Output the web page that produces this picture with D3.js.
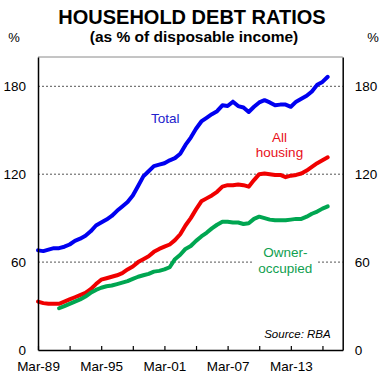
<!DOCTYPE html>
<html>
<head>
<meta charset="utf-8">
<script src="https://cdn.jsdelivr.net/npm/d3@7"></script>
<style>
  body { margin: 0; background: #fff; }
  svg { display: block; font-family: "Liberation Sans", Arial, sans-serif; }
</style>
</head>
<body>
<svg id="chart"></svg>
<script>
// Half-yearly observations (Mar / Sep)
const dates = [
  "Mar-89","Sep-89","Mar-90","Sep-90","Mar-91","Sep-91","Mar-92","Sep-92",
  "Mar-93","Sep-93","Mar-94","Sep-94","Mar-95","Sep-95","Mar-96","Sep-96",
  "Mar-97","Sep-97","Mar-98","Sep-98","Mar-99","Sep-99","Mar-00","Sep-00",
  "Mar-01","Sep-01","Mar-02","Sep-02","Mar-03","Sep-03","Mar-04","Sep-04",
  "Mar-05","Sep-05","Mar-06","Sep-06","Mar-07","Sep-07","Mar-08","Sep-08",
  "Mar-09","Sep-09","Mar-10","Sep-10","Mar-11","Sep-11","Mar-12","Sep-12",
  "Mar-13","Sep-13","Mar-14","Sep-14","Mar-15","Sep-15","Mar-16","Sep-16"
];

const total = [
  68, 67.5, 68.5, 69.5, 69.5, 70.5, 72, 74.5,
  76, 78, 81, 85, 87, 89, 91.5, 95,
  98, 101, 105.5, 112, 118.5, 122, 125.5, 126.5,
  127.5, 129.5, 131, 134, 140, 145, 151, 156,
  158.5, 161, 163, 167, 166.5, 169.5, 166.5, 165.5,
  162.5, 166, 169, 170.5, 169, 167, 167.5, 167.5,
  166, 169.5, 171.5, 173.5, 176.5, 181, 183, 186.5
];

const allHousing = [
  33, 32, 31.5, 31.5, 31.5, 33, 34.5, 36,
  37.5, 39, 41.5, 45, 48, 49, 50, 51,
  52.5, 55, 57, 60, 62, 64, 67, 69,
  70.5, 72, 75, 79, 85, 90, 96, 101.5,
  103.5, 105.5, 108, 111.5, 112.5, 112.5, 113, 112.5,
  111.5, 116, 120, 120.5, 120, 119.5, 119.5, 118,
  119, 119.5, 120.5, 122.5, 125, 127.5, 129.5, 131.5
];

const ownerOccupied = [
  null, null, null, null, 28.5, 30, 31.5, 33,
  34.5, 36.5, 39, 41, 42.5, 43.5, 44, 45,
  46, 47, 48.5, 50, 51, 52, 53.5, 54,
  55, 56.5, 62, 65, 69, 71, 74.5, 77.5,
  80, 83, 85.5, 87.5, 87.5, 87, 87, 86,
  86.5, 89.5, 91, 90, 89, 88.5, 88.5, 88.5,
  89, 89.5, 89.5, 91, 93, 94.5, 96.5, 98
];

const xTicks = ["Mar-89","Mar-92","Mar-95","Mar-98","Mar-01","Mar-04","Mar-07","Mar-10","Mar-13","Mar-16"];
const xTickLabels = ["Mar-89","Mar-95","Mar-01","Mar-07","Mar-13"];
const yTicks = [0, 60, 120, 180];

const width = 389, height = 382;
const margin = { top: 57, right: 46.3, bottom: 32, left: 38 };
const innerW = width - margin.left - margin.right;
const innerH = height - margin.top - margin.bottom;

const parse = d3.timeParse("%b-%y");

const svg = d3.select("#chart").attr("width", width).attr("height", height);

const x = d3.scaleTime()
  .domain([parse("Mar-89"), new Date(2018, 1, 1)])
  .range([0, innerW]);

const y = d3.scaleLinear()
  .domain([0, 200])
  .range([innerH, 0]);

const g = svg.append("g").attr("transform", `translate(${margin.left},${margin.top})`);

// top border
g.append("line")
  .attr("x1", 0).attr("x2", innerW)
  .attr("y1", 0).attr("y2", 0)
  .attr("stroke", "#8a8a8a").attr("stroke-width", 1);

// dotted gridlines
g.selectAll(".grid")
  .data(yTicks.filter(d => d > 0))
  .enter().append("line")
  .attr("class", "grid")
  .attr("x1", 0).attr("x2", innerW)
  .attr("y1", d => y(d)).attr("y2", d => y(d))
  .attr("stroke", "#555").attr("stroke-width", 1)
  .attr("stroke-dasharray", "2,2");

// lines
const line = d3.line()
  .defined(d => d.v != null)
  .x(d => x(d.date))
  .y(d => y(d.v));

const series = [
  { values: total, color: "#0000f0" },
  { values: allHousing, color: "#f00000" },
  { values: ownerOccupied, color: "#00a651" }
];

series.forEach(s => {
  const pts = dates.map((d, i) => ({ date: parse(d), v: s.values[i] }));
  g.append("path")
    .datum(pts)
    .attr("fill", "none")
    .attr("stroke", s.color)
    .attr("stroke-width", 4)
    .attr("stroke-linejoin", "round")
    .attr("stroke-linecap", "round")
    .attr("d", line);
});

// series labels
g.append("text")
  .attr("x", 127.3).attr("y", 65.7)
  .attr("text-anchor", "middle")
  .attr("fill", "#2222cc")
  .attr("font-size", "13.5px")
  .text("Total");

const redLabel = g.append("text")
  .attr("text-anchor", "middle")
  .attr("fill", "#e8101a")
  .attr("font-size", "13.5px");
redLabel.append("tspan").attr("x", 241.5).attr("y", 84.7).text("All");
redLabel.append("tspan").attr("x", 241.5).attr("y", 100.3).text("housing");

g.append("rect")
  .attr("x", 214.7).attr("y", y(60) - 3)
  .attr("width", 64).attr("height", 6)
  .attr("fill", "#fff");

const greenLabel = g.append("text")
  .attr("text-anchor", "middle")
  .attr("fill", "#10a050")
  .attr("font-size", "13.5px");
greenLabel.append("tspan").attr("x", 247.3).attr("y", 199.7).text("Owner-");
greenLabel.append("tspan").attr("x", 247.3).attr("y", 215.7).text("occupied");

g.append("text")
  .attr("x", 292.7).attr("y", 281.3)
  .attr("text-anchor", "end")
  .attr("font-size", "11.5px")
  .attr("font-style", "italic")
  .attr("fill", "#000")
  .text("Source: RBA");

// axes
const xAxis = g.append("g")
  .attr("transform", `translate(0,${innerH})`)
  .call(d3.axisBottom(x)
    .tickValues(xTicks.map(parse))
    .tickSizeInner(-4)
    .tickSizeOuter(0)
    .tickPadding(11.5)
    .tickFormat(d => {
      const s = d3.timeFormat("%b-%y")(d);
      return xTickLabels.includes(s) ? s : "";
    }));

const yLeft = g.append("g")
  .call(d3.axisLeft(y).tickValues(yTicks).tickSize(0).tickPadding(12));

const yRight = g.append("g")
  .attr("transform", `translate(${innerW},0)`)
  .call(d3.axisRight(y).tickValues(yTicks).tickSize(0).tickPadding(12));

[xAxis, yLeft, yRight].forEach(a => {
  a.select(".domain").attr("stroke", "#000").attr("stroke-width", 1.5);
  a.selectAll(".tick line").attr("stroke", "#000").attr("stroke-width", 1.2);
  a.selectAll("text")
    .attr("font-family", "\"Liberation Sans\", Arial, sans-serif")
    .attr("font-size", "13.5px")
    .attr("fill", "#000");
});

// "%" unit labels
svg.append("text").attr("x", 14).attr("y", 42)
  .attr("text-anchor", "middle").attr("font-size", "13px").text("%");
svg.append("text").attr("x", 373).attr("y", 42)
  .attr("text-anchor", "middle").attr("font-size", "13px").text("%");

// title
svg.append("text")
  .attr("x", 192).attr("y", 24)
  .attr("text-anchor", "middle")
  .attr("font-size", "20px")
  .attr("font-weight", "bold")
  .text("HOUSEHOLD DEBT RATIOS");

svg.append("text")
  .attr("x", 194).attr("y", 42.3)
  .attr("text-anchor", "middle")
  .attr("font-size", "15.5px")
  .attr("font-weight", "bold")
  .text("(as % of disposable income)");
</script>
</body>
</html>
